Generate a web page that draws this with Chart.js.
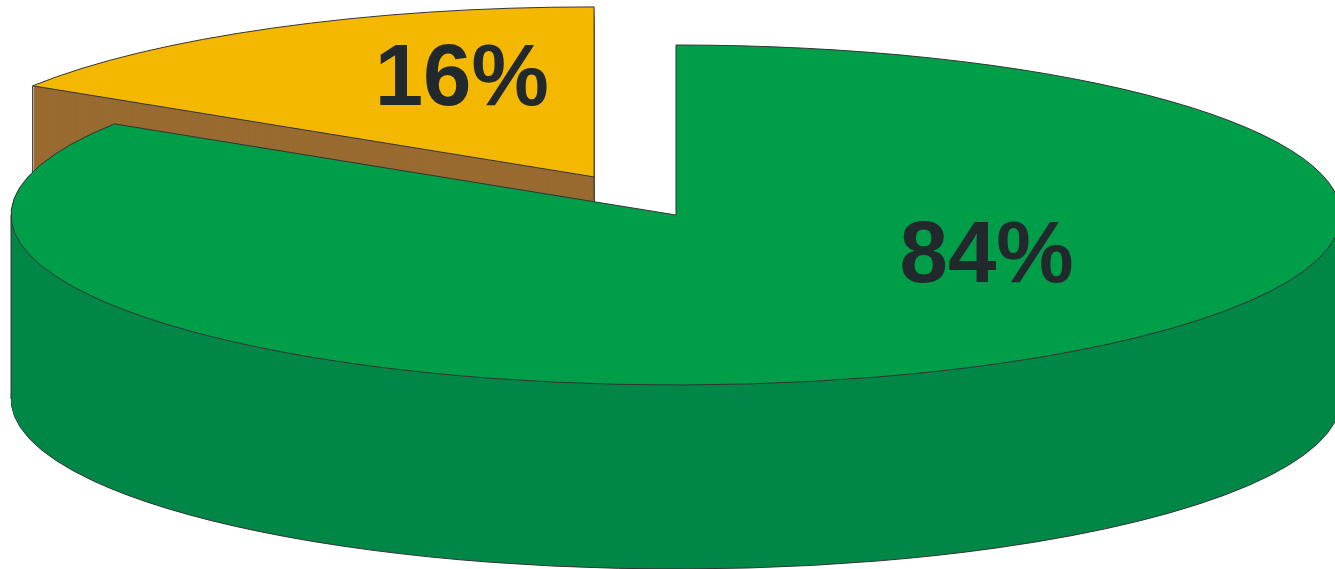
<!DOCTYPE html>
<html>
<head>
<meta charset="utf-8">
<script src="https://cdn.jsdelivr.net/npm/chart.js@4.4.0/dist/chart.umd.min.js"></script>
<style>
  html, body { margin: 0; padding: 0; background: #fff; }
  #chart { display: block; }
</style>
</head>
<body>
<canvas id="chart" width="1335" height="569"></canvas>
<script>
// data
const categories = ['Slice A', 'Slice B'];
const shares = [84, 16];

// look
const topColors = ['#009e49', '#f4b800'];
const sideColors = ['#008747', '#996b31'];
const explode = [0, 170];                          // pull-out of each slice, px before squash
const labelSpots = [[0.467, 0.394], [-0.199, -0.424]]; // label baseline, in radii from slice tip
const RADIUS = 665;
const TILT = 170 / RADIUS; // vertical squash of the disc
const CENTER_Y = 215;      // where the disc centre lands on screen
const DEPTH = 184;         // height of the side wall
const EDGE = '#333';

// stroke in screen space so outlines stay 1px after the squash
function straightStrokes(ctx, base, fn) {
  ctx.stroke = function () {
    this.save();
    this.setTransform(base);
    CanvasRenderingContext2D.prototype.stroke.call(this);
    this.restore();
  };
  fn();
  delete ctx.stroke;
}

function inRange(a, start, end) {
  const TAU = Math.PI * 2;
  let x = a;
  while (x < start) x += TAU;
  return x <= end;
}

const pie3d = {
  id: 'pie3d',
  beforeDatasetsDraw(chart) {
    const ctx = chart.ctx;
    const arcs = chart.getDatasetMeta(0).data;
    const base = ctx.getTransform();
    const mid = el => (el.startAngle + el.endAngle) / 2;
    const shift = i => [Math.cos(mid(arcs[i])) * explode[i], Math.sin(mid(arcs[i])) * explode[i]];

    // chart point -> screen point
    const toScreen = (i, x, y, drop) => {
      const [sx, sy] = shift(i);
      return [x + sx, CENTER_Y + drop + (y - arcs[i].y + sy) * TILT];
    };

    const put = (i, drop) => {
      const [sx, sy] = shift(i);
      ctx.setTransform(base);
      ctx.translate(0, CENTER_Y + drop);
      ctx.scale(1, TILT);
      ctx.translate(sx, sy - arcs[i].y);
    };

    const paint = (i, fill, border) => {
      const el = arcs[i];
      const keep = el.options;
      el.options = Object.assign({}, keep, {
        backgroundColor: fill,
        borderColor: EDGE,
        borderWidth: border ? 1 : 0,
        offset: 0
      });
      el.draw(ctx);
      el.options = keep;
    };

    const sideEdges = i => {
      const el = arcs[i];
      const r = el.outerRadius;
      const pts = [[el.x, el.y]];
      [el.startAngle, el.endAngle, 0, Math.PI].forEach(a => {
        if (inRange(a, el.startAngle - 1e-9, el.endAngle + 1e-9)) {
          pts.push([el.x + Math.cos(a) * r, el.y + Math.sin(a) * r]);
        }
      });
      const pick = cmp => pts.reduce((best, p) =>
        (cmp(p[0], best[0]) || (Math.abs(p[0] - best[0]) < 0.5 && p[1] > best[1])) ? p : best);
      const lo = pick((a, b) => a < b - 0.5);
      const hi = pick((a, b) => a > b + 0.5);
      ctx.setTransform(base);
      ctx.strokeStyle = EDGE;
      ctx.lineWidth = 1;
      [lo, hi].forEach(p => {
        const [x, y] = toScreen(i, p[0], p[1], 0);
        ctx.beginPath();
        ctx.moveTo(x, y);
        ctx.lineTo(x, y + DEPTH);
        ctx.stroke();
      });
    };

    const order = arcs.map((el, i) => i)
      .sort((a, b) => Math.sin(mid(arcs[a])) - Math.sin(mid(arcs[b])));

    ctx.save();
    straightStrokes(ctx, base, () => {
      order.forEach(i => {
        put(i, DEPTH);
        paint(i, sideColors[i], true);
        for (let d = DEPTH - 1; d > 0; d--) {
          put(i, d);
          paint(i, sideColors[i], false);
        }
        sideEdges(i);
      });
      order.forEach(i => {
        put(i, 0);
        paint(i, topColors[i], true);
      });
    });
    ctx.restore();

    // percentage labels
    const total = shares.reduce((s, v) => s + v, 0);
    ctx.save();
    ctx.setTransform(base);
    ctx.font = 'bold 87px "Liberation Sans", Arial, sans-serif';
    ctx.fillStyle = '#22292c';
    ctx.textAlign = 'center';
    ctx.textBaseline = 'alphabetic';
    arcs.forEach((el, i) => {
      const [tx, ty] = toScreen(i, el.x, el.y, 0);
      const r = el.outerRadius;
      const x = tx + labelSpots[i][0] * r;
      const y = ty + labelSpots[i][1] * r * TILT;
      ctx.fillText(Math.round(shares[i] / total * 100) + '%', x, y);
    });
    ctx.restore();
    return false;
  }
};

new Chart(document.getElementById('chart'), {
  type: 'pie',
  data: {
    labels: categories,
    datasets: [{
      data: shares,
      backgroundColor: topColors,
      borderColor: EDGE,
      borderWidth: 1
    }]
  },
  options: {
    responsive: false,
    animation: false,
    devicePixelRatio: 1,
    events: [],
    radius: RADIUS,
    layout: { padding: { left: 17 } },
    plugins: {
      legend: { display: false },
      tooltip: { enabled: false }
    }
  },
  plugins: [pie3d]
});
</script>
</body>
</html>
